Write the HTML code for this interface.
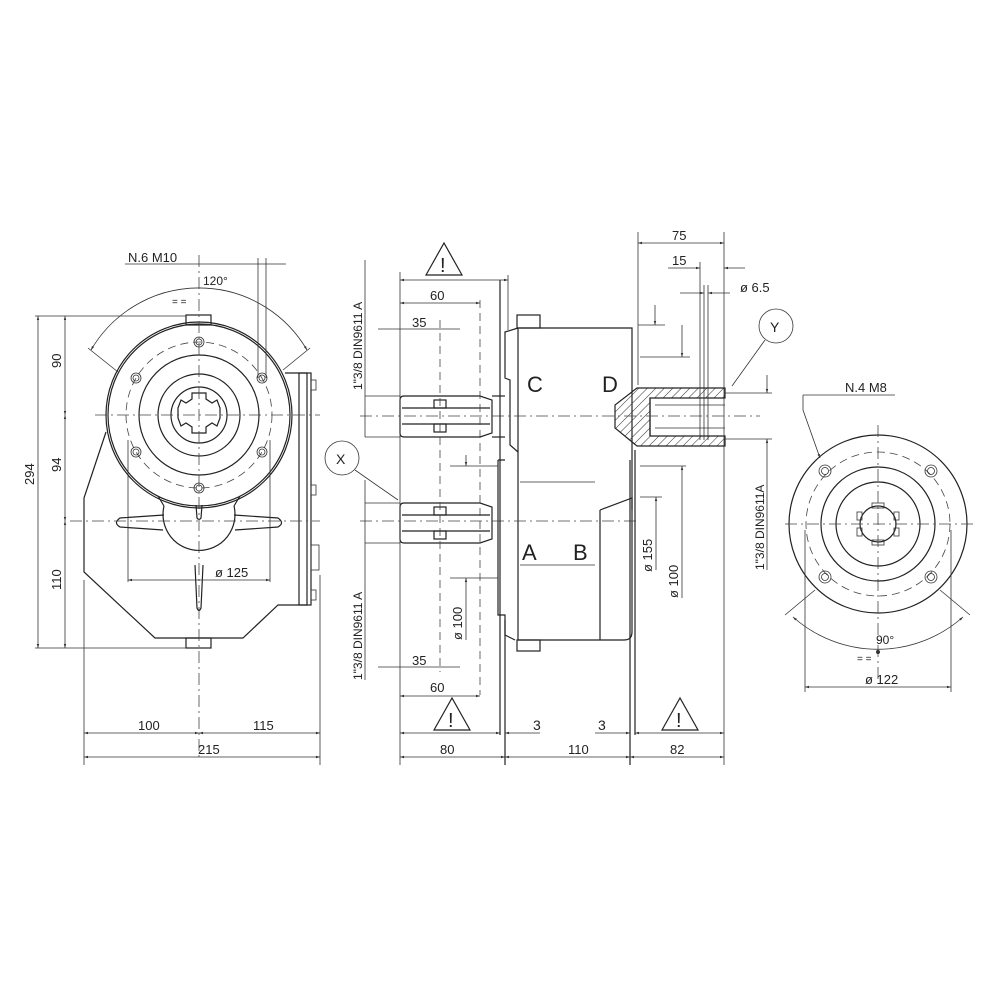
<!DOCTYPE html>
<html><head><meta charset="utf-8"><style>
html,body{margin:0;padding:0;background:#fff}
svg{display:block}
text{font-family:"Liberation Sans",sans-serif;fill:#222}
.l{stroke:#222;stroke-width:1.2;fill:none}
.t{stroke:#333;stroke-width:0.8;fill:none}
.d{stroke:#444;stroke-width:0.8;fill:none;stroke-dasharray:12 4 2 4}
.h{stroke:#444;stroke-width:0.8;fill:none;stroke-dasharray:8 5}
</style></head><body>
<svg width="1000" height="1000" viewBox="0 0 1000 1000" font-size="13" xmlns="http://www.w3.org/2000/svg">
<defs>
<marker id="a" viewBox="0 0 10 10" refX="10" refY="5" markerWidth="7" markerHeight="5" orient="auto-start-reverse"><path d="M0,2 L10,5 L0,8z" fill="#333"/></marker>
<pattern id="hat" width="6" height="6" patternUnits="userSpaceOnUse" patternTransform="rotate(45)"><line x1="0" y1="0" x2="0" y2="6" stroke="#333" stroke-width="1"/></pattern>
</defs>

<!-- ===== LEFT VIEW ===== -->
<g>
<path class="l" d="M106,432 L84,498 L84,572 L155,638 L243,638 L278,605 L307,605 L307,373 L285,373"/>
<rect class="l" x="299" y="373" width="12" height="232"/>
<rect class="t" x="311" y="380" width="5" height="10"/><rect class="t" x="311" y="485" width="5" height="10"/><rect class="t" x="311" y="545" width="8" height="25"/><rect class="t" x="311" y="590" width="5" height="10"/>
<circle class="l" cx="199" cy="415" r="93"/>
<circle class="l" cx="199" cy="415" r="91"/>
<circle class="h" cx="199" cy="415" r="73"/>
<circle class="l" cx="199" cy="415" r="60"/>
<circle class="l" cx="199" cy="415" r="41"/>
<circle class="l" cx="199" cy="415" r="28"/>
<path class="l" d="M192,393 h14 v6 l6,4 l5,-3 l3,8 v10 l-3,8 l-5,-3 l-6,4 v6 h-14 v-6 l-6,-4 l-5,3 l-3,-8 v-10 l3,-8 l5,3 l6,-4z"/>
<g class="t">
<circle cx="199" cy="342" r="5"/><circle cx="199" cy="342" r="3"/>
<circle cx="199" cy="488" r="5"/><circle cx="199" cy="488" r="3"/>
<circle cx="136" cy="378" r="5"/><circle cx="136" cy="378" r="3"/>
<circle cx="262" cy="378" r="5"/><circle cx="262" cy="378" r="3"/>
<circle cx="136" cy="452" r="5"/><circle cx="136" cy="452" r="3"/>
<circle cx="262" cy="452" r="5"/><circle cx="262" cy="452" r="3"/>
</g>
<rect class="l" x="186" y="315" width="25" height="10"/><rect class="l" x="186" y="638" width="25" height="10"/>
<!-- lower part -->
<path class="l" d="M164,506 A36,36 0 1 0 234,506"/>
<path class="l" d="M164,506 L158,496 M234,506 L240,496"/>
<path class="l" d="M164,515 L120,518 Q113,523 120,527 L163,530"/>
<path class="l" d="M234,515 L278,518 Q285,523 278,527 L235,530"/>
<path class="l" d="M195,565 L197,608 Q199,613 201,608 L203,565"/>
<path class="l" d="M196,505 L197,518 Q199,521 201,518 L202,505"/>
<line class="d" x1="199" y1="255" x2="199" y2="760"/>
<line class="d" x1="95" y1="415" x2="320" y2="415"/>
<line class="d" x1="70" y1="521" x2="320" y2="521"/>
<path class="t" d="M91,350 A125,125 0 0 1 307,350" marker-start="url(#a)" marker-end="url(#a)"/>
<line class="t" x1="88" y1="348" x2="118" y2="372"/><line class="t" x1="310" y1="348" x2="283" y2="370"/>
<text x="203" y="285" font-size="12">120°</text>
<text x="172" y="305" font-size="10">= =</text>
<text x="128" y="262">N.6 M10</text>
<line class="t" x1="125" y1="264" x2="286" y2="264"/>
<line class="t" x1="258" y1="258" x2="258" y2="378"/><line class="t" x1="266" y1="258" x2="266" y2="378"/>
<line class="t" x1="35" y1="316" x2="186" y2="316"/>
<line class="t" x1="35" y1="648" x2="186" y2="648"/>
<line class="t" x1="38" y1="316" x2="38" y2="648" marker-start="url(#a)" marker-end="url(#a)"/>
<line class="t" x1="65" y1="316" x2="65" y2="415" marker-start="url(#a)" marker-end="url(#a)"/>
<line class="t" x1="65" y1="415" x2="65" y2="521" marker-start="url(#a)" marker-end="url(#a)"/>
<line class="t" x1="65" y1="521" x2="65" y2="648" marker-start="url(#a)" marker-end="url(#a)"/>
<text transform="translate(34,485) rotate(-90)">294</text>
<text transform="translate(61,368) rotate(-90)">90</text>
<text transform="translate(61,472) rotate(-90)">94</text>
<text transform="translate(61,590) rotate(-90)">110</text>
<line class="t" x1="128" y1="440" x2="128" y2="582"/><line class="t" x1="270" y1="440" x2="270" y2="582"/>
<line class="t" x1="128" y1="580" x2="270" y2="580" marker-start="url(#a)" marker-end="url(#a)"/>
<text x="215" y="577">ø 125</text>
<line class="t" x1="84" y1="580" x2="84" y2="765"/><line class="t" x1="320" y1="575" x2="320" y2="765"/>
<line class="t" x1="84" y1="733" x2="199" y2="733" marker-start="url(#a)" marker-end="url(#a)"/>
<line class="t" x1="199" y1="733" x2="320" y2="733" marker-start="url(#a)" marker-end="url(#a)"/>
<line class="t" x1="84" y1="757" x2="320" y2="757" marker-start="url(#a)" marker-end="url(#a)"/>
<text x="138" y="730">100</text><text x="253" y="730">115</text><text x="198" y="754">215</text>
</g>

<!-- ===== MIDDLE VIEW ===== -->
<g>
<path class="l" d="M518,328 L632,328 L632,632 Q632,640 624,640 L518,640 Z"/>
<path class="l" d="M518,328 L505,332 L505,378 L510,380 L510,445 L518,452"/>
<path class="l" d="M498,460 L505,460 M498,460 L498,615 L505,615 L505,635 L515,640"/>
<rect class="l" x="517" y="315" width="23" height="13"/><rect class="l" x="517" y="640" width="23" height="11"/>
<line class="l" x1="600" y1="510" x2="600" y2="640"/>
<path class="l" d="M600,510 L632,498 L632,510"/>
<line class="t" x1="520" y1="482" x2="595" y2="482"/><line class="t" x1="520" y1="565" x2="595" y2="565"/>
<text x="527" y="392" font-size="22">C</text><text x="602" y="392" font-size="22">D</text>
<text x="522" y="560" font-size="22">A</text><text x="573" y="560" font-size="22">B</text>
<g class="l">
<path d="M404,396 L480,396 L492,400 L492,433 L480,437 L404,437 Q400,437 400,433 L400,400 Q400,396 404,396z"/>
<line x1="402" y1="408" x2="490" y2="408"/><line x1="402" y1="424" x2="490" y2="424"/>
<rect x="434" y="400" width="12" height="8"/><rect x="434" y="424" width="12" height="8"/>
<line x1="492" y1="396" x2="505" y2="396"/><line x1="492" y1="437" x2="505" y2="437"/>
<path d="M404,503 L480,503 L492,507 L492,539 L480,543 L404,543 Q400,543 400,539 L400,507 Q400,503 404,503z"/>
<line x1="402" y1="515" x2="490" y2="515"/><line x1="402" y1="531" x2="490" y2="531"/>
<rect x="434" y="507" width="12" height="8"/><rect x="434" y="531" width="12" height="8"/>
</g>
<path d="M637,388 L725,388 L725,398 L650,398 L650,436 L725,436 L725,446 L637,446 L615,428 L615,405 Z" fill="url(#hat)" stroke="#222" stroke-width="1.2"/>
<line class="l" x1="650" y1="398" x2="650" y2="436"/>
<line class="t" x1="655" y1="405" x2="725" y2="405"/><line class="t" x1="655" y1="428" x2="725" y2="428"/>
<line class="d" x1="360" y1="416" x2="760" y2="416"/>
<line class="d" x1="360" y1="521" x2="640" y2="521"/>
<line class="h" x1="440" y1="320" x2="440" y2="672"/>
<line class="h" x1="480" y1="300" x2="480" y2="695"/>
<line class="t" x1="400" y1="272" x2="400" y2="765"/>
<line class="l" x1="500" y1="280" x2="500" y2="735"/>
<line class="l" x1="505" y1="620" x2="505" y2="765"/>
<line class="l" x1="630" y1="460" x2="630" y2="765"/>
<line class="l" x1="635" y1="450" x2="635" y2="735"/>
<line class="t" x1="638" y1="232" x2="638" y2="385"/>
<line class="t" x1="724" y1="232" x2="724" y2="765"/>
<line class="t" x1="508" y1="275" x2="508" y2="330"/>
<line class="t" x1="400" y1="280" x2="508" y2="280" marker-start="url(#a)" marker-end="url(#a)"/>
<line class="t" x1="400" y1="303" x2="480" y2="303" marker-start="url(#a)" marker-end="url(#a)"/>
<text x="430" y="300">60</text>
<line class="t" x1="378" y1="329" x2="460" y2="329"/>
<text x="412" y="327">35</text>
<line class="t" x1="378" y1="667" x2="460" y2="667"/><text x="412" y="665">35</text>
<line class="t" x1="400" y1="696" x2="480" y2="696" marker-start="url(#a)" marker-end="url(#a)"/><text x="430" y="692">60</text>
<line class="t" x1="400" y1="733" x2="500" y2="733" marker-start="url(#a)" marker-end="url(#a)"/>
<line class="t" x1="505" y1="733" x2="540" y2="733" marker-start="url(#a)"/>
<line class="t" x1="595" y1="733" x2="630" y2="733" marker-end="url(#a)"/>
<line class="t" x1="635" y1="733" x2="724" y2="733" marker-start="url(#a)" marker-end="url(#a)"/>
<text x="533" y="730" font-size="14">3</text><text x="598" y="730" font-size="14">3</text>
<line class="t" x1="400" y1="757" x2="505" y2="757" marker-start="url(#a)" marker-end="url(#a)"/>
<line class="t" x1="505" y1="757" x2="630" y2="757" marker-start="url(#a)" marker-end="url(#a)"/>
<line class="t" x1="630" y1="757" x2="724" y2="757" marker-start="url(#a)" marker-end="url(#a)"/>
<text x="440" y="754">80</text><text x="568" y="754">110</text><text x="670" y="754">82</text>
<g class="l"><path d="M426,275 L444,243 L462,275Z"/><path d="M434,730 L452,698 L470,730Z"/><path d="M662,730 L680,698 L698,730Z"/></g>
<text x="440" y="272" font-size="20">!</text><text x="448" y="727" font-size="20">!</text><text x="676" y="727" font-size="20">!</text>
<line class="t" x1="365" y1="396" x2="400" y2="396"/><line class="t" x1="365" y1="437" x2="400" y2="437"/>
<line class="t" x1="365" y1="260" x2="365" y2="437"/>
<text transform="translate(362,390) rotate(-90)" font-size="12">1"3/8 DIN9611 A</text>
<line class="t" x1="365" y1="503" x2="400" y2="503"/><line class="t" x1="365" y1="543" x2="400" y2="543"/>
<line class="t" x1="365" y1="480" x2="365" y2="680"/>
<text transform="translate(362,680) rotate(-90)" font-size="12">1"3/8 DIN9611 A</text>
<line class="t" x1="450" y1="466" x2="498" y2="466"/><line class="t" x1="450" y1="578" x2="498" y2="578"/>
<line class="t" x1="466" y1="455" x2="466" y2="466" marker-end="url(#a)"/>
<line class="t" x1="466" y1="640" x2="466" y2="578" marker-end="url(#a)"/>
<text transform="translate(462,640) rotate(-90)">ø 100</text>
<circle class="t" cx="342" cy="458" r="17"/><text x="336" y="464" font-size="14">X</text>
<line class="t" x1="355" y1="470" x2="398" y2="500"/>
<line class="t" x1="638" y1="243" x2="724" y2="243" marker-start="url(#a)" marker-end="url(#a)"/><text x="672" y="240">75</text>
<line class="t" x1="668" y1="268" x2="700" y2="268" marker-end="url(#a)"/>
<line class="t" x1="724" y1="268" x2="745" y2="268" marker-start="url(#a)"/>
<text x="672" y="265">15</text>
<line class="t" x1="700" y1="262" x2="700" y2="440"/><line class="t" x1="704" y1="285" x2="704" y2="440"/><line class="t" x1="708" y1="285" x2="708" y2="440"/>
<line class="t" x1="680" y1="293" x2="704" y2="293" marker-end="url(#a)"/>
<line class="t" x1="708" y1="293" x2="730" y2="293" marker-start="url(#a)"/>
<text x="740" y="292">ø 6.5</text>
<line class="t" x1="638" y1="325" x2="665" y2="325"/><line class="t" x1="655" y1="305" x2="655" y2="325" marker-end="url(#a)"/>
<line class="t" x1="640" y1="357" x2="690" y2="357"/><line class="t" x1="682" y1="325" x2="682" y2="357" marker-end="url(#a)"/>
<line class="t" x1="640" y1="466" x2="686" y2="466"/><line class="t" x1="682" y1="598" x2="682" y2="466" marker-end="url(#a)"/>
<text transform="translate(678,598) rotate(-90)">ø 100</text>
<line class="t" x1="640" y1="497" x2="662" y2="497"/><line class="t" x1="656" y1="570" x2="656" y2="497" marker-end="url(#a)"/>
<text transform="translate(652,572) rotate(-90)">ø 155</text>
<circle class="t" cx="776" cy="326" r="17"/><text x="770" y="332" font-size="14">Y</text>
<line class="t" x1="765" y1="340" x2="732" y2="386"/>
<line class="t" x1="725" y1="393" x2="772" y2="393"/><line class="t" x1="725" y1="439" x2="772" y2="439"/>
<line class="t" x1="767" y1="375" x2="767" y2="393" marker-end="url(#a)"/>
<line class="t" x1="767" y1="570" x2="767" y2="439" marker-end="url(#a)"/>
<text transform="translate(764,570) rotate(-90)" font-size="12">1"3/8 DIN9611A</text>
</g>

<!-- ===== RIGHT VIEW ===== -->
<g>
<circle class="l" cx="878" cy="524" r="89"/>
<circle class="h" cx="878" cy="524" r="72"/>
<circle class="l" cx="878" cy="524" r="57"/>
<circle class="l" cx="878" cy="524" r="42"/>
<circle class="l" cx="878" cy="524" r="18"/>
<g class="t">
<rect x="872" y="503" width="12" height="5"/><rect x="872" y="540" width="12" height="5"/>
<rect x="857" y="512" width="5" height="8"/><rect x="894" y="512" width="5" height="8"/>
<rect x="857" y="528" width="5" height="8"/><rect x="894" y="528" width="5" height="8"/>
<circle cx="825" cy="471" r="6"/><circle cx="825" cy="471" r="3.5"/>
<circle cx="931" cy="471" r="6"/><circle cx="931" cy="471" r="3.5"/>
<circle cx="825" cy="577" r="6"/><circle cx="825" cy="577" r="3.5"/>
<circle cx="931" cy="577" r="6"/><circle cx="931" cy="577" r="3.5"/>
</g>
<line class="d" x1="878" y1="425" x2="878" y2="680"/>
<line class="d" x1="785" y1="524" x2="975" y2="524"/>
<text x="845" y="392">N.4 M8</text>
<line class="t" x1="803" y1="395" x2="895" y2="395"/>
<path class="t" d="M803,395 L803,410 L820,458" marker-end="url(#a)"/>
<path class="t" d="M793,617 A128,128 0 0 0 963,617" marker-start="url(#a)" marker-end="url(#a)"/>
<line class="t" x1="785" y1="615" x2="815" y2="590"/><line class="t" x1="970" y1="615" x2="940" y2="590"/>
<text x="876" y="644" font-size="12">90°</text>
<circle cx="878" cy="652" r="2" fill="#333"/>
<text x="857" y="662" font-size="10">= =</text>
<line class="t" x1="805" y1="530" x2="805" y2="692"/><line class="t" x1="951" y1="530" x2="951" y2="692"/>
<line class="t" x1="805" y1="687" x2="951" y2="687" marker-start="url(#a)" marker-end="url(#a)"/>
<text x="865" y="684">ø 122</text>
</g>
</svg>
</body></html>
